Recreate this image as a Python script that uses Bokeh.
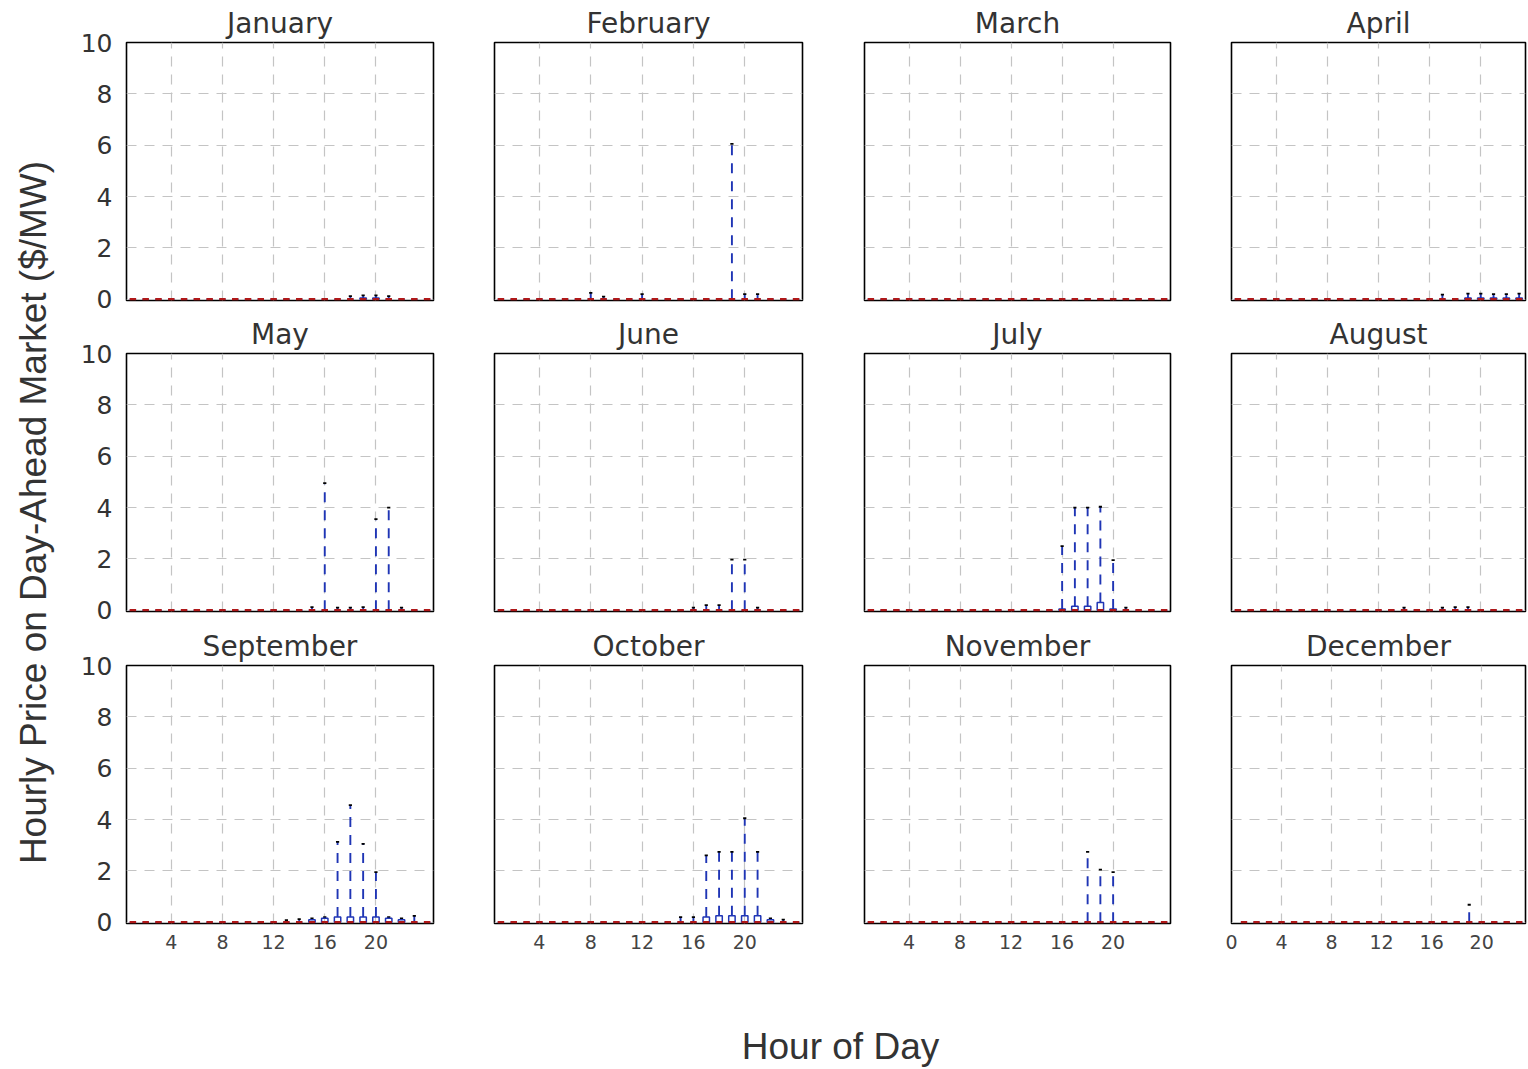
# monthly boxplots of hourly day-ahead prices, 3 x 4 grid

from bokeh.plotting import figure
from bokeh.layouts import gridplot, row, column
from bokeh.models import Range1d, FixedTicker
from bokeh.embed import file_html
from bokeh.resources import INLINE
from bokeh.core.properties import value
import math

# data... hour of day 1..24, one list per month
hours = [1, 2, 3, 4, 5, 6, 7, 8, 9, 10, 11, 12, 13, 14, 15, 16, 17, 18, 19, 20, 21, 22, 23, 24]
months = ["January", "February", "March", "April", "May", "June",
          "July", "August", "September", "October", "November", "December"]

# lower quartile and median are zero everywhere
q1_all = [0, 0, 0, 0, 0, 0, 0, 0, 0, 0, 0, 0, 0, 0, 0, 0, 0, 0, 0, 0, 0, 0, 0, 0]
med_all = [0, 0, 0, 0, 0, 0, 0, 0, 0, 0, 0, 0, 0, 0, 0, 0, 0, 0, 0, 0, 0, 0, 0, 0]

# upper quartile (box top) per month
q3_jan = [0, 0, 0, 0, 0, 0, 0, 0, 0, 0, 0, 0, 0, 0, 0, 0, 0, 0, 0.05, 0.05, 0, 0, 0, 0]
q3_feb = [0, 0, 0, 0, 0, 0, 0, 0, 0, 0, 0, 0, 0, 0, 0, 0, 0, 0, 0, 0, 0, 0, 0, 0]
q3_mar = [0, 0, 0, 0, 0, 0, 0, 0, 0, 0, 0, 0, 0, 0, 0, 0, 0, 0, 0, 0, 0, 0, 0, 0]
q3_apr = [0, 0, 0, 0, 0, 0, 0, 0, 0, 0, 0, 0, 0, 0, 0, 0, 0, 0, 0.05, 0.05, 0.05, 0.05, 0.05, 0]
q3_may = [0, 0, 0, 0, 0, 0, 0, 0, 0, 0, 0, 0, 0, 0, 0, 0, 0, 0, 0, 0, 0, 0, 0, 0]
q3_jun = [0, 0, 0, 0, 0, 0, 0, 0, 0, 0, 0, 0, 0, 0, 0, 0, 0, 0, 0, 0, 0, 0, 0, 0]
q3_jul = [0, 0, 0, 0, 0, 0, 0, 0, 0, 0, 0, 0, 0, 0, 0, 0.05, 0.15, 0.15, 0.3, 0.05, 0, 0, 0, 0]
q3_aug = [0, 0, 0, 0, 0, 0, 0, 0, 0, 0, 0, 0, 0, 0, 0, 0, 0, 0, 0, 0, 0, 0, 0, 0]
q3_sep = [0, 0, 0, 0, 0, 0, 0, 0, 0, 0, 0, 0, 0, 0, 0.1, 0.15, 0.2, 0.2, 0.2, 0.2, 0.15, 0.1, 0, 0]
q3_oct = [0, 0, 0, 0, 0, 0, 0, 0, 0, 0, 0, 0, 0, 0, 0, 0, 0.2, 0.25, 0.25, 0.25, 0.25, 0.1, 0, 0]
q3_nov = [0, 0, 0, 0, 0, 0, 0, 0, 0, 0, 0, 0, 0, 0, 0, 0, 0, 0, 0, 0, 0, 0, 0, 0]
q3_dec = [0, 0, 0, 0, 0, 0, 0, 0, 0, 0, 0, 0, 0, 0, 0, 0, 0, 0, 0, 0, 0, 0, 0, 0]

# upper whisker end per month
hi_jan = [0, 0, 0, 0, 0, 0, 0, 0, 0, 0, 0, 0, 0, 0, 0, 0, 0, 0.12, 0.15, 0.15, 0.12, 0, 0, 0]
hi_feb = [0, 0, 0, 0, 0, 0, 0, 0.25, 0.1, 0, 0, 0.2, 0, 0, 0, 0, 0, 0, 6.05, 0.2, 0.2, 0, 0, 0]
hi_mar = [0, 0, 0, 0, 0, 0, 0, 0, 0, 0, 0, 0, 0, 0, 0, 0, 0, 0, 0, 0, 0, 0, 0, 0]
hi_apr = [0, 0, 0, 0, 0, 0, 0, 0, 0, 0, 0, 0, 0, 0, 0, 0, 0.18, 0, 0.22, 0.22, 0.2, 0.2, 0.22, 0.1]
hi_may = [0, 0, 0, 0, 0, 0, 0, 0, 0, 0, 0, 0, 0, 0, 0.12, 4.95, 0.1, 0.1, 0.12, 3.55, 4.0, 0.1, 0, 0]
hi_jun = [0, 0, 0, 0, 0, 0, 0, 0, 0, 0, 0, 0, 0, 0, 0, 0.1, 0.2, 0.2, 1.97, 1.97, 0.1, 0, 0, 0]
hi_jul = [0, 0, 0, 0, 0, 0, 0, 0, 0, 0, 0, 0, 0, 0, 0, 2.5, 4.0, 4.0, 4.03, 1.95, 0.1, 0, 0, 0]
hi_aug = [0, 0, 0, 0, 0, 0, 0, 0, 0, 0, 0, 0, 0, 0.1, 0, 0, 0.1, 0.12, 0.12, 0, 0, 0, 0, 0]
hi_sep = [0, 0, 0, 0, 0, 0, 0, 0, 0, 0, 0, 0, 0.08, 0.12, 0.15, 0.2, 3.13, 4.56, 3.05, 1.95, 0.2, 0.15, 0.25, 0]
hi_oct = [0, 0, 0, 0, 0, 0, 0, 0, 0, 0, 0, 0, 0, 0, 0.2, 0.2, 2.6, 2.74, 2.74, 4.05, 2.74, 0.15, 0.1, 0]
hi_nov = [0, 0, 0, 0, 0, 0, 0, 0, 0, 0, 0, 0, 0, 0, 0, 0, 0, 2.74, 2.05, 1.95, 0, 0, 0, 0]
hi_dec = [0, 0, 0, 0, 0, 0, 0, 0, 0, 0, 0, 0, 0, 0, 0, 0, 0, 0, 0.68, 0, 0, 0, 0, 0]

q3_list = [q3_jan, q3_feb, q3_mar, q3_apr, q3_may, q3_jun,
           q3_jul, q3_aug, q3_sep, q3_oct, q3_nov, q3_dec]
hi_list = [hi_jan, hi_feb, hi_mar, hi_apr, hi_may, hi_jun,
           hi_jul, hi_aug, hi_sep, hi_oct, hi_nov, hi_dec]

x_ticks = [4, 8, 12, 16, 20]
x_ticks_dec = [0, 4, 8, 12, 16, 20]
y_ticks = [0, 2, 4, 6, 8, 10]

# layout numbers (pixels)
ylab_w = 68
frame_w = [307, 308, 306, 294]
frame_h = [258, 259, 259]
bord_left = [58, 31, 32, 31]
bord_right = [30, 30, 30, 2]
bord_top = [42, 39, 39]
bord_bottom = [13, 14, 40]

BLUE = "#1f35b5"
RED = "#b01818"
TXT = "#333333"
box_w = 0.5


def panel(i):
    r, c = i // 4, i % 4
    name = months[i]
    if c == 3:
        xr = Range1d(0 if name == "December" else 0.5, 23.5)
    else:
        xr = Range1d(0.5, 24.5)
    p = figure(width=bord_left[c] + frame_w[c] + bord_right[c],
               height=bord_top[r] + frame_h[r] + bord_bottom[r],
               x_range=xr, y_range=Range1d(-0.05, 10),
               x_axis_location="below" if r == 2 else None,
               y_axis_location="left" if c == 0 else None,
               toolbar_location=None, output_backend="svg",
               min_border=0, min_border_left=bord_left[c], min_border_right=bord_right[c],
               min_border_top=bord_top[r], min_border_bottom=bord_bottom[r])
    p.title.text = name
    p.title.align = "center"
    p.title.text_font = "DejaVu Sans"
    p.title.text_font_size = "28px"
    p.title.text_font_style = "normal"
    p.title.text_color = TXT
    p.title.standoff = 5
    p.outline_line_color = "black"
    p.outline_line_width = 1.6
    p.background_fill_color = "white"
    p.border_fill_color = "white"

    xt = x_ticks_dec if name == "December" else x_ticks
    p.xgrid.ticker = FixedTicker(ticks=xt)
    p.ygrid.ticker = FixedTicker(ticks=y_ticks)
    for g in (p.xgrid, p.ygrid):
        g.grid_line_color = "#c4c4c4"
        g.grid_line_dash = "10 8"
        g.grid_line_width = 1.2

    for ax in p.xaxis:
        ax.ticker = FixedTicker(ticks=xt)
        ax.major_label_text_font = "DejaVu Sans"
        ax.major_label_text_font_size = "19px"
        ax.major_label_text_color = "#444444"
        ax.major_label_standoff = 5
    for ax in p.yaxis:
        ax.ticker = FixedTicker(ticks=y_ticks)
        ax.major_label_text_font = "DejaVu Sans"
        ax.major_label_text_font_size = "25px"
        ax.major_label_text_color = TXT
        ax.major_label_standoff = 8
    for ax in list(p.xaxis) + list(p.yaxis):
        ax.axis_line_color = None
        ax.major_tick_line_color = None
        ax.minor_tick_line_color = None

    q3 = q3_list[i]
    hi = hi_list[i]
    # whiskers
    p.segment(x0=hours, x1=hours, y0=q3, y1=hi, line_color=BLUE,
              line_width=1.9, line_dash="10 8")
    # caps
    xl = [h - box_w / 4 for h in hours]
    xr_ = [h + box_w / 4 for h in hours]
    p.segment(x0=xl, x1=xr_, y0=q1_all, y1=q1_all, line_color="black", line_width=1.8)
    p.segment(x0=xl, x1=xr_, y0=hi, y1=hi, line_color="black", line_width=1.8)
    # boxes
    p.quad(left=[h - box_w / 2 for h in hours], right=[h + box_w / 2 for h in hours],
           bottom=q1_all, top=q3, fill_color=None, line_color=BLUE, line_width=1.5)
    # medians
    p.segment(x0=[h - box_w / 2 for h in hours], x1=[h + box_w / 2 for h in hours],
              y0=med_all, y1=med_all, line_color=RED, line_width=2.5)
    return p


panels = [panel(i) for i in range(12)]
grid = gridplot([panels[0:4], panels[4:8], panels[8:12]], toolbar_location=None)

grid_h = sum(bord_top[r] + frame_h[r] + bord_bottom[r] for r in range(3))
grid_w = sum(bord_left[c] + frame_w[c] + bord_right[c] for c in range(4))

# y label strip
ylab = figure(width=ylab_w, height=grid_h, x_range=Range1d(0, ylab_w), y_range=Range1d(0, grid_h),
              x_axis_location=None, y_axis_location=None, toolbar_location=None,
              output_backend="svg", min_border=0, outline_line_color=None)
ylab.grid.visible = False
ylab.text(x=[33], y=[grid_h - 512], text=["Hourly Price on Day-Ahead Market ($/MW)"],
          angle=math.pi / 2, text_align="center", text_baseline="middle",
          text_font=value("Liberation Sans"), text_font_size="37px", text_color=TXT)

# x label strip
xlab_h = 1069 - grid_h - 2
xlab = figure(width=ylab_w + grid_w, height=xlab_h, x_range=Range1d(0, ylab_w + grid_w),
              y_range=Range1d(0, xlab_h), x_axis_location=None, y_axis_location=None,
              toolbar_location=None, output_backend="svg", min_border=0,
              outline_line_color=None)
xlab.grid.visible = False
xlab.text(x=[840], y=[xlab_h - (1046 - grid_h)], text=["Hour of Day"], text_align="center",
          text_baseline="middle", text_font=value("Liberation Sans"),
          text_font_size="37px", text_color=TXT)

layout = column(row(ylab, grid), xlab)

open("out.html", "w").write(file_html(layout, INLINE))
